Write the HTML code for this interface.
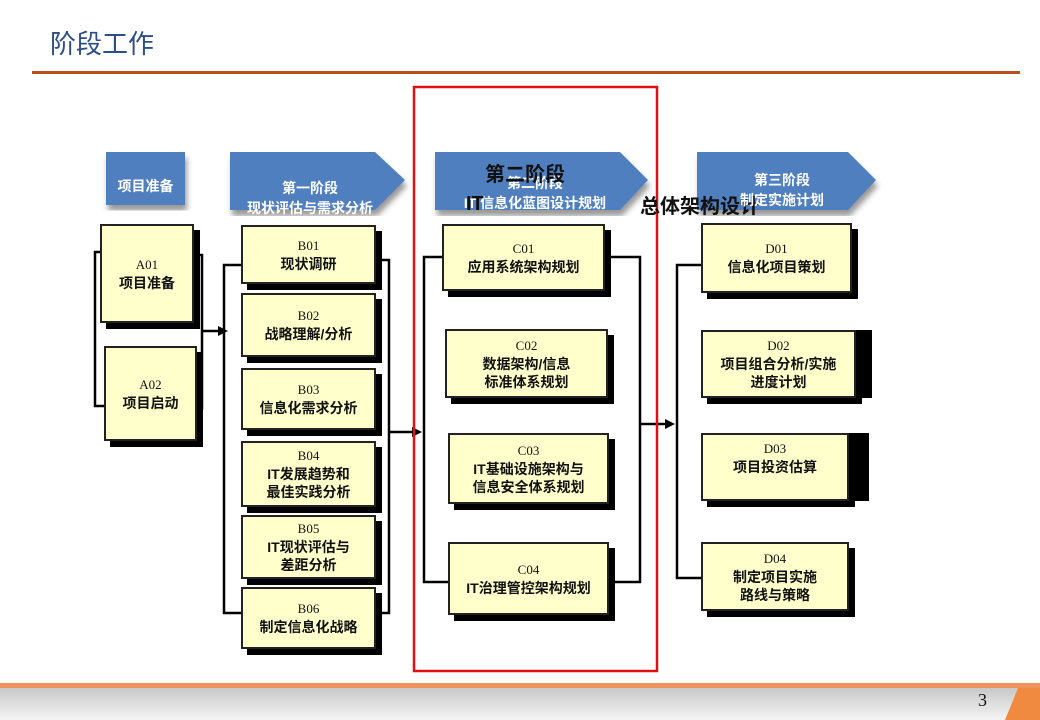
<!DOCTYPE html>
<html><head><meta charset="utf-8"><style>
body{margin:0;width:1040px;height:720px;position:relative;overflow:hidden;background:#fff;font-family:"Liberation Sans","Noto Sans CJK SC",sans-serif}
.b{position:absolute;background:#ffffcc;border:2px solid #222;box-shadow:6px 6px 0 #000;box-sizing:border-box;text-align:center;font-size:14px;font-weight:bold;color:#111;display:flex;flex-direction:column;justify-content:center;line-height:18px}
.b .c{font-family:"Liberation Serif",serif;font-weight:normal;font-size:13px}
.h{position:absolute;color:#fff;text-align:center;font-size:14px;line-height:20px;font-weight:bold}
svg{position:absolute;left:0;top:0}
</style></head><body>
<div style="position:absolute;left:50px;top:24px;font-size:26px;color:#2d4f86">阶段工作</div>
<div style="position:absolute;left:32px;top:71px;width:988px;height:3px;background:#b5501e"></div>
<svg width="1040" height="720">
<defs><filter id="s"><feDropShadow dx="2" dy="6" stdDeviation="3" flood-color="#555" flood-opacity="0.6"/></filter></defs>
<rect x="106" y="152" width="79" height="53" fill="#4f7fbf" filter="url(#s)"/>
<polygon points="230,152 375,152 405,180 375,210 230,210" fill="#4f7fbf" filter="url(#s)"/>
<polygon points="435,152 620,152 648,180 620,210 435,210" fill="#4f7fbf" filter="url(#s)"/>
<polygon points="697,152 848,152 876,180 848,210 697,210" fill="#4f7fbf" filter="url(#s)"/>
<g stroke="#000" stroke-width="2.5" fill="none">
<polyline points="100,252 95,252 95,406 104,406"/>
<polyline points="196,255 202,255 202,408 196,408"/>
<line x1="202" y1="331" x2="222" y2="331"/>
<polyline points="241,265 224,265 224,613 241,613"/>
<polyline points="375,260 389,260 389,613 375,613"/>
<line x1="389" y1="432" x2="416" y2="432"/>
<polyline points="442,257 424,257 424,582 448,582"/>
<polyline points="604,257 640,257 640,582 608,582"/>
<line x1="640" y1="424" x2="668" y2="424"/>
<polyline points="701,265 677,265 677,578 701,578"/>
</g>
<polygon points="228,331 218,326 218,336" fill="#000"/>
<polygon points="422,432 412,427 412,437" fill="#000"/>
<polygon points="675,424 665,419 665,429" fill="#000"/>
<rect x="414" y="87" width="243" height="584" fill="none" stroke="#e01010" stroke-width="2.5"/>
<defs><linearGradient id="g" x1="0" y1="0" x2="0" y2="1"><stop offset="0" stop-color="#c8c8c8"/><stop offset="1" stop-color="#f4f4f4"/></linearGradient></defs>
<rect x="0" y="683" width="1040" height="5" fill="#f0905a"/>
<rect x="0" y="688" width="1040" height="32" fill="url(#g)"/>
<polygon points="1018,688 1040,688 1040,720 1005,720" fill="#f08a40"/>
</svg>
<div class="h" style="left:106px;top:176px;width:79px">项目准备</div>
<div class="h" style="left:230px;top:178px;width:160px">第一阶段<br>现状评估与需求分析</div>
<div class="h" style="left:435px;top:173px;width:200px">第二阶段<br>IT 信息化蓝图设计规划</div>
<div style="position:absolute;left:485px;top:158px;font-size:20px;font-weight:bold;color:#111">第二阶段</div>
<div style="position:absolute;left:466px;top:193px;font-size:20px;font-weight:bold;color:#111">IT</div>
<div style="position:absolute;left:640px;top:190px;font-size:20px;font-weight:bold;color:#111">总体架构设计</div>
<div class="h" style="left:697px;top:170px;width:170px">第三阶段<br>制定实施计划</div>
<div class="b" style="left:100px;top:224px;width:94px;height:99px"><span class="c">A01</span>项目准备</div>
<div class="b" style="left:104px;top:346px;width:93px;height:95px"><span class="c">A02</span>项目启动</div>
<div class="b" style="left:241px;top:225px;width:135px;height:59px"><span class="c">B01</span>现状调研</div>
<div class="b" style="left:241px;top:293px;width:135px;height:64px"><span class="c">B02</span>战略理解/分析</div>
<div class="b" style="left:241px;top:368px;width:135px;height:62px"><span class="c">B03</span>信息化需求分析</div>
<div class="b" style="left:241px;top:441px;width:135px;height:66px"><span class="c">B04</span>IT发展趋势和<br>最佳实践分析</div>
<div class="b" style="left:241px;top:515px;width:135px;height:64px"><span class="c">B05</span>IT现状评估与<br>差距分析</div>
<div class="b" style="left:241px;top:587px;width:135px;height:62px"><span class="c">B06</span>制定信息化战略</div>
<div class="b" style="left:442px;top:224px;width:163px;height:67px"><span class="c">C01</span>应用系统架构规划</div>
<div class="b" style="left:445px;top:329px;width:163px;height:69px"><span class="c">C02</span>数据架构/信息<br>标准体系规划</div>
<div class="b" style="left:448px;top:433px;width:161px;height:71px"><span class="c">C03</span>IT基础设施架构与<br>信息安全体系规划</div>
<div class="b" style="left:448px;top:542px;width:161px;height:73px"><span class="c">C04</span>IT治理管控架构规划</div>
<div class="b" style="left:701px;top:223px;width:151px;height:70px"><span class="c">D01</span>信息化项目策划</div>
<div class="b" style="left:701px;top:330px;width:155px;height:68px;box-shadow:16px 0 0 #000,6px 6px 0 #000"><span class="c">D02</span>项目组合分析/实施<br>进度计划</div>
<div class="b" style="left:701px;top:433px;width:148px;height:68px;box-shadow:20px 0 0 #000,6px 6px 0 #000"><span class="c">D03</span>项目投资估算<br>&nbsp;</div>
<div class="b" style="left:701px;top:542px;width:148px;height:69px"><span class="c">D04</span>制定项目实施<br>路线与策略</div>
<div style="position:absolute;left:978px;top:690px;font-family:'Liberation Serif',serif;font-size:18px;color:#111">3</div>
</body></html>
